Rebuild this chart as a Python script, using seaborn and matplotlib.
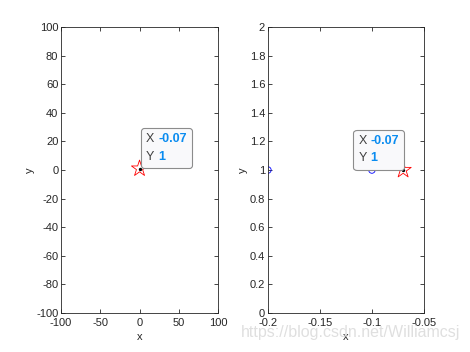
import matplotlib
matplotlib.use('Agg')
import matplotlib.pyplot as plt
import seaborn as sns
import pandas as pd
from matplotlib.offsetbox import TextArea, HPacker, VPacker, AnnotationBbox

# data
circle_x = [-0.2, -0.1]
circle_y = [1, 1]
star_x = [-0.07]
star_y = [1]
tip_x = -0.07
tip_y = 1

sns.set_style('white')
plt.rcParams['font.family'] = ['Liberation Sans', 'DejaVu Sans']
plt.rcParams['font.size'] = 7.5
plt.rcParams['axes.unicode_minus'] = False

fig = plt.figure(figsize=(4.7, 3.52), dpi=100)
ax1 = fig.add_axes([0.130, 0.111, 0.334, 0.812])
ax2 = fig.add_axes([0.570, 0.111, 0.332, 0.812])

circles = pd.DataFrame({'x': circle_x, 'y': circle_y})
stars = pd.DataFrame({'x': star_x, 'y': star_y})

def datatip(ax, xoff, yoff):
    c_lab = '#404040'
    c_val = '#0a8cf0'
    r1 = HPacker(children=[TextArea('X ', textprops=dict(color=c_lab, size=9)),
                           TextArea('%.2f' % tip_x, textprops=dict(color=c_val, size=9, weight='bold'))],
                 pad=0, sep=0)
    r2 = HPacker(children=[TextArea('Y ', textprops=dict(color=c_lab, size=9)),
                           TextArea('%g' % tip_y, textprops=dict(color=c_val, size=9, weight='bold'))],
                 pad=0, sep=0)
    box = VPacker(children=[r1, r2], pad=0, sep=4, align='left')
    ab = AnnotationBbox(box, (tip_x, tip_y), xybox=(xoff, yoff), boxcoords='offset points',
                        box_alignment=(0, 0), pad=0.5, frameon=True,
                        bboxprops=dict(boxstyle='round,pad=0.5,rounding_size=0.3',
                                       fc='#f9f9fb', ec='#8c8c8c', lw=0.8))
    ax.add_artist(ab)

# left plot
sns.scatterplot(data=stars, x='x', y='y', ax=ax1, marker='*', s=150,
                facecolor='none', edgecolor='red', linewidth=0.6)
sns.scatterplot(data=stars, x='x', y='y', ax=ax1, color='black', s=6, linewidth=0)
ax1.set_xlim(-100, 100)
ax1.set_ylim(-100, 100)
ax1.set_xticks(range(-100, 101, 50))
ax1.set_yticks(range(-100, 101, 20))
datatip(ax1, 5, 4)

# right plot
sns.scatterplot(data=circles, x='x', y='y', ax=ax2, marker='o', s=22,
                facecolor='none', edgecolor='blue', linewidth=0.6)
sns.scatterplot(data=stars, x='x', y='y', ax=ax2, marker='*', s=150,
                facecolor='none', edgecolor='red', linewidth=0.6)
sns.scatterplot(data=stars, x='x', y='y', ax=ax2, color='black', s=6, linewidth=0)
ax2.set_xlim(-0.2, -0.05)
ax2.set_ylim(0, 2)
ax2.set_xticks([-0.2, -0.15, -0.1, -0.05])
ax2.set_xticklabels(['-0.2', '-0.15', '-0.1', '-0.05'])
ax2.set_yticks([0, 0.2, 0.4, 0.6, 0.8, 1, 1.2, 1.4, 1.6, 1.8, 2])
ax2.set_yticklabels(['0', '0.2', '0.4', '0.6', '0.8', '1', '1.2', '1.4', '1.6', '1.8', '2'])
datatip(ax2, -32, 4)

for ax in (ax1, ax2):
    ax.set_xlabel('x', fontsize=8, color='#262626', labelpad=3)
    ax.set_ylabel('y', fontsize=8, color='#262626', labelpad=1)
    ax.tick_params(direction='in', length=3, width=0.6, colors='#262626',
                   labelsize=8, pad=2, top=True, right=True, bottom=True, left=True,
                   labeltop=False, labelright=False)
    ax.tick_params(axis='x', pad=3.5)
    for s in ax.spines.values():
        s.set_visible(True)
        s.set_color('#262626')
        s.set_linewidth(0.6)
    ax.set_facecolor('white')
    ax.legend_ = None

fig.text(0.98, 0.035, 'https://blog.csdn.net/Williamcsj', ha='right', va='bottom',
         fontsize=11.5, color='#dcdcdc', alpha=0.9)

fig.savefig('out.png', dpi=100, facecolor='white')
